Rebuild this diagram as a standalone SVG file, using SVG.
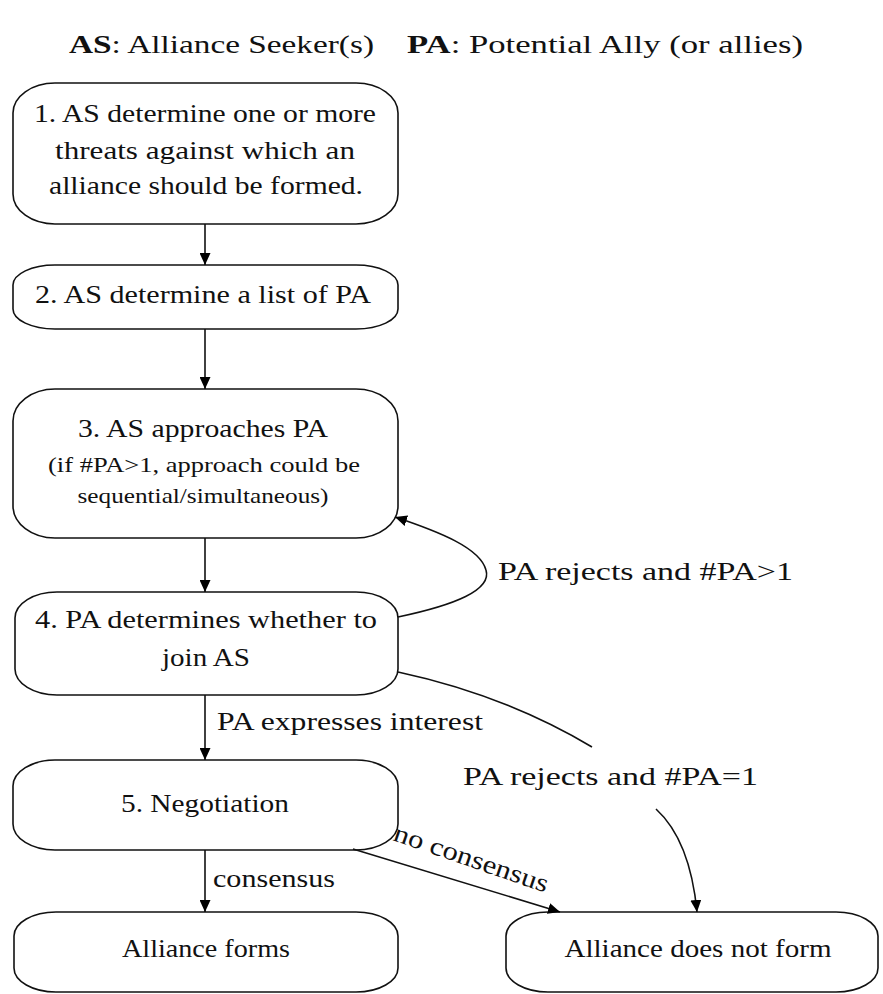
<svg xmlns="http://www.w3.org/2000/svg" width="883" height="994" viewBox="0 0 883 994">
<defs>
<marker id="ah" markerWidth="12" markerHeight="11" refX="12" refY="5.5" orient="auto" markerUnits="userSpaceOnUse">
<path d="M0,0 L12,5.5 L0,11 z" fill="#000"/>
</marker>
<style>
.t{font-family:"Liberation Serif","Times New Roman",serif;font-size:26px;fill:#111;}
.s{font-size:21px;}
.c{text-anchor:middle;}
.b{font-weight:bold;}
.box{fill:none;stroke:#111;stroke-width:1.6;}
.e{fill:none;stroke:#111;stroke-width:1.6;marker-end:url(#ah);}
</style>
</defs>
<rect width="883" height="994" fill="#fff"/>
<g id="legend">
<text class="t" x="69" y="53" textLength="305" lengthAdjust="spacingAndGlyphs"><tspan class="b">AS</tspan>: Alliance Seeker(s)</text>
<text class="t" x="407" y="53" textLength="396" lengthAdjust="spacingAndGlyphs"><tspan class="b">PA</tspan>: Potential Ally (or allies)</text>
</g>
<g id="n1">
<rect class="box" x="13" y="83" width="385" height="141" rx="42" ry="30"/>
<text class="t c" x="205" y="122" textLength="342" lengthAdjust="spacingAndGlyphs">1. AS determine one or more</text>
<text class="t c" x="205" y="159" textLength="300" lengthAdjust="spacingAndGlyphs">threats against which an</text>
<text class="t c" x="206" y="194" textLength="314" lengthAdjust="spacingAndGlyphs">alliance should be formed.</text>
</g>
<g id="n2">
<rect class="box" x="13" y="265" width="385" height="64" rx="42" ry="20"/>
<text class="t c" x="203" y="303" textLength="336" lengthAdjust="spacingAndGlyphs">2. AS determine a list of PA</text>
</g>
<g id="n3">
<rect class="box" x="13" y="389" width="385" height="149" rx="42" ry="32"/>
<text class="t c" x="203" y="437" textLength="250" lengthAdjust="spacingAndGlyphs">3. AS approaches PA</text>
<text class="t s c" x="204" y="472" textLength="312" lengthAdjust="spacingAndGlyphs">(if #PA&gt;1, approach could be</text>
<text class="t s c" x="203" y="503" textLength="251" lengthAdjust="spacingAndGlyphs">sequential/simultaneous)</text>
</g>
<g id="n4">
<rect class="box" x="15" y="592" width="383" height="103" rx="42" ry="26"/>
<text class="t c" x="206" y="628" textLength="342" lengthAdjust="spacingAndGlyphs">4. PA determines whether to</text>
<text class="t c" x="206" y="666" textLength="88" lengthAdjust="spacingAndGlyphs">join AS</text>
</g>
<g id="n5">
<rect class="box" x="13" y="760" width="385" height="90" rx="42" ry="26"/>
<text class="t c" x="205" y="812" textLength="168" lengthAdjust="spacingAndGlyphs">5. Negotiation</text>
</g>
<g id="n6">
<rect class="box" x="14" y="912" width="384" height="80" rx="42" ry="24"/>
<text class="t c" x="206" y="957" textLength="168" lengthAdjust="spacingAndGlyphs">Alliance forms</text>
</g>
<g id="n7">
<rect class="box" x="506" y="912" width="372" height="80" rx="42" ry="24"/>
<text class="t c" x="698" y="957" textLength="267" lengthAdjust="spacingAndGlyphs">Alliance does not form</text>
</g>
<g id="connectors">
<path class="e" d="M205,224 L205,265"/>
<path class="e" d="M205,329 L205,389"/>
<path class="e" d="M205,538 L205,592"/>
<path class="e" d="M398,617 C455,605 492,590 486,570 C480,548 440,532 395,517"/>
<text class="t" x="498" y="580" textLength="295" lengthAdjust="spacingAndGlyphs">PA rejects and #PA&gt;1</text>
<path class="e" d="M205,695 L205,760"/>
<text class="t" x="217" y="730" textLength="266" lengthAdjust="spacingAndGlyphs">PA expresses interest</text>
<path class="e" d="M398,672 Q505,695 592,747 M656,809 Q690,840 697,912"/>
<text class="t" x="463" y="785" textLength="295" lengthAdjust="spacingAndGlyphs">PA rejects and #PA=1</text>
<path class="e" d="M205,850 L205,912"/>
<text class="t" x="213" y="887" textLength="122" lengthAdjust="spacingAndGlyphs">consensus</text>
<path class="e" d="M353,849 L560,912"/>
<text class="t" x="392" y="840" transform="rotate(19 392 840)" textLength="162" lengthAdjust="spacingAndGlyphs">no consensus</text>
</g>
</svg>
